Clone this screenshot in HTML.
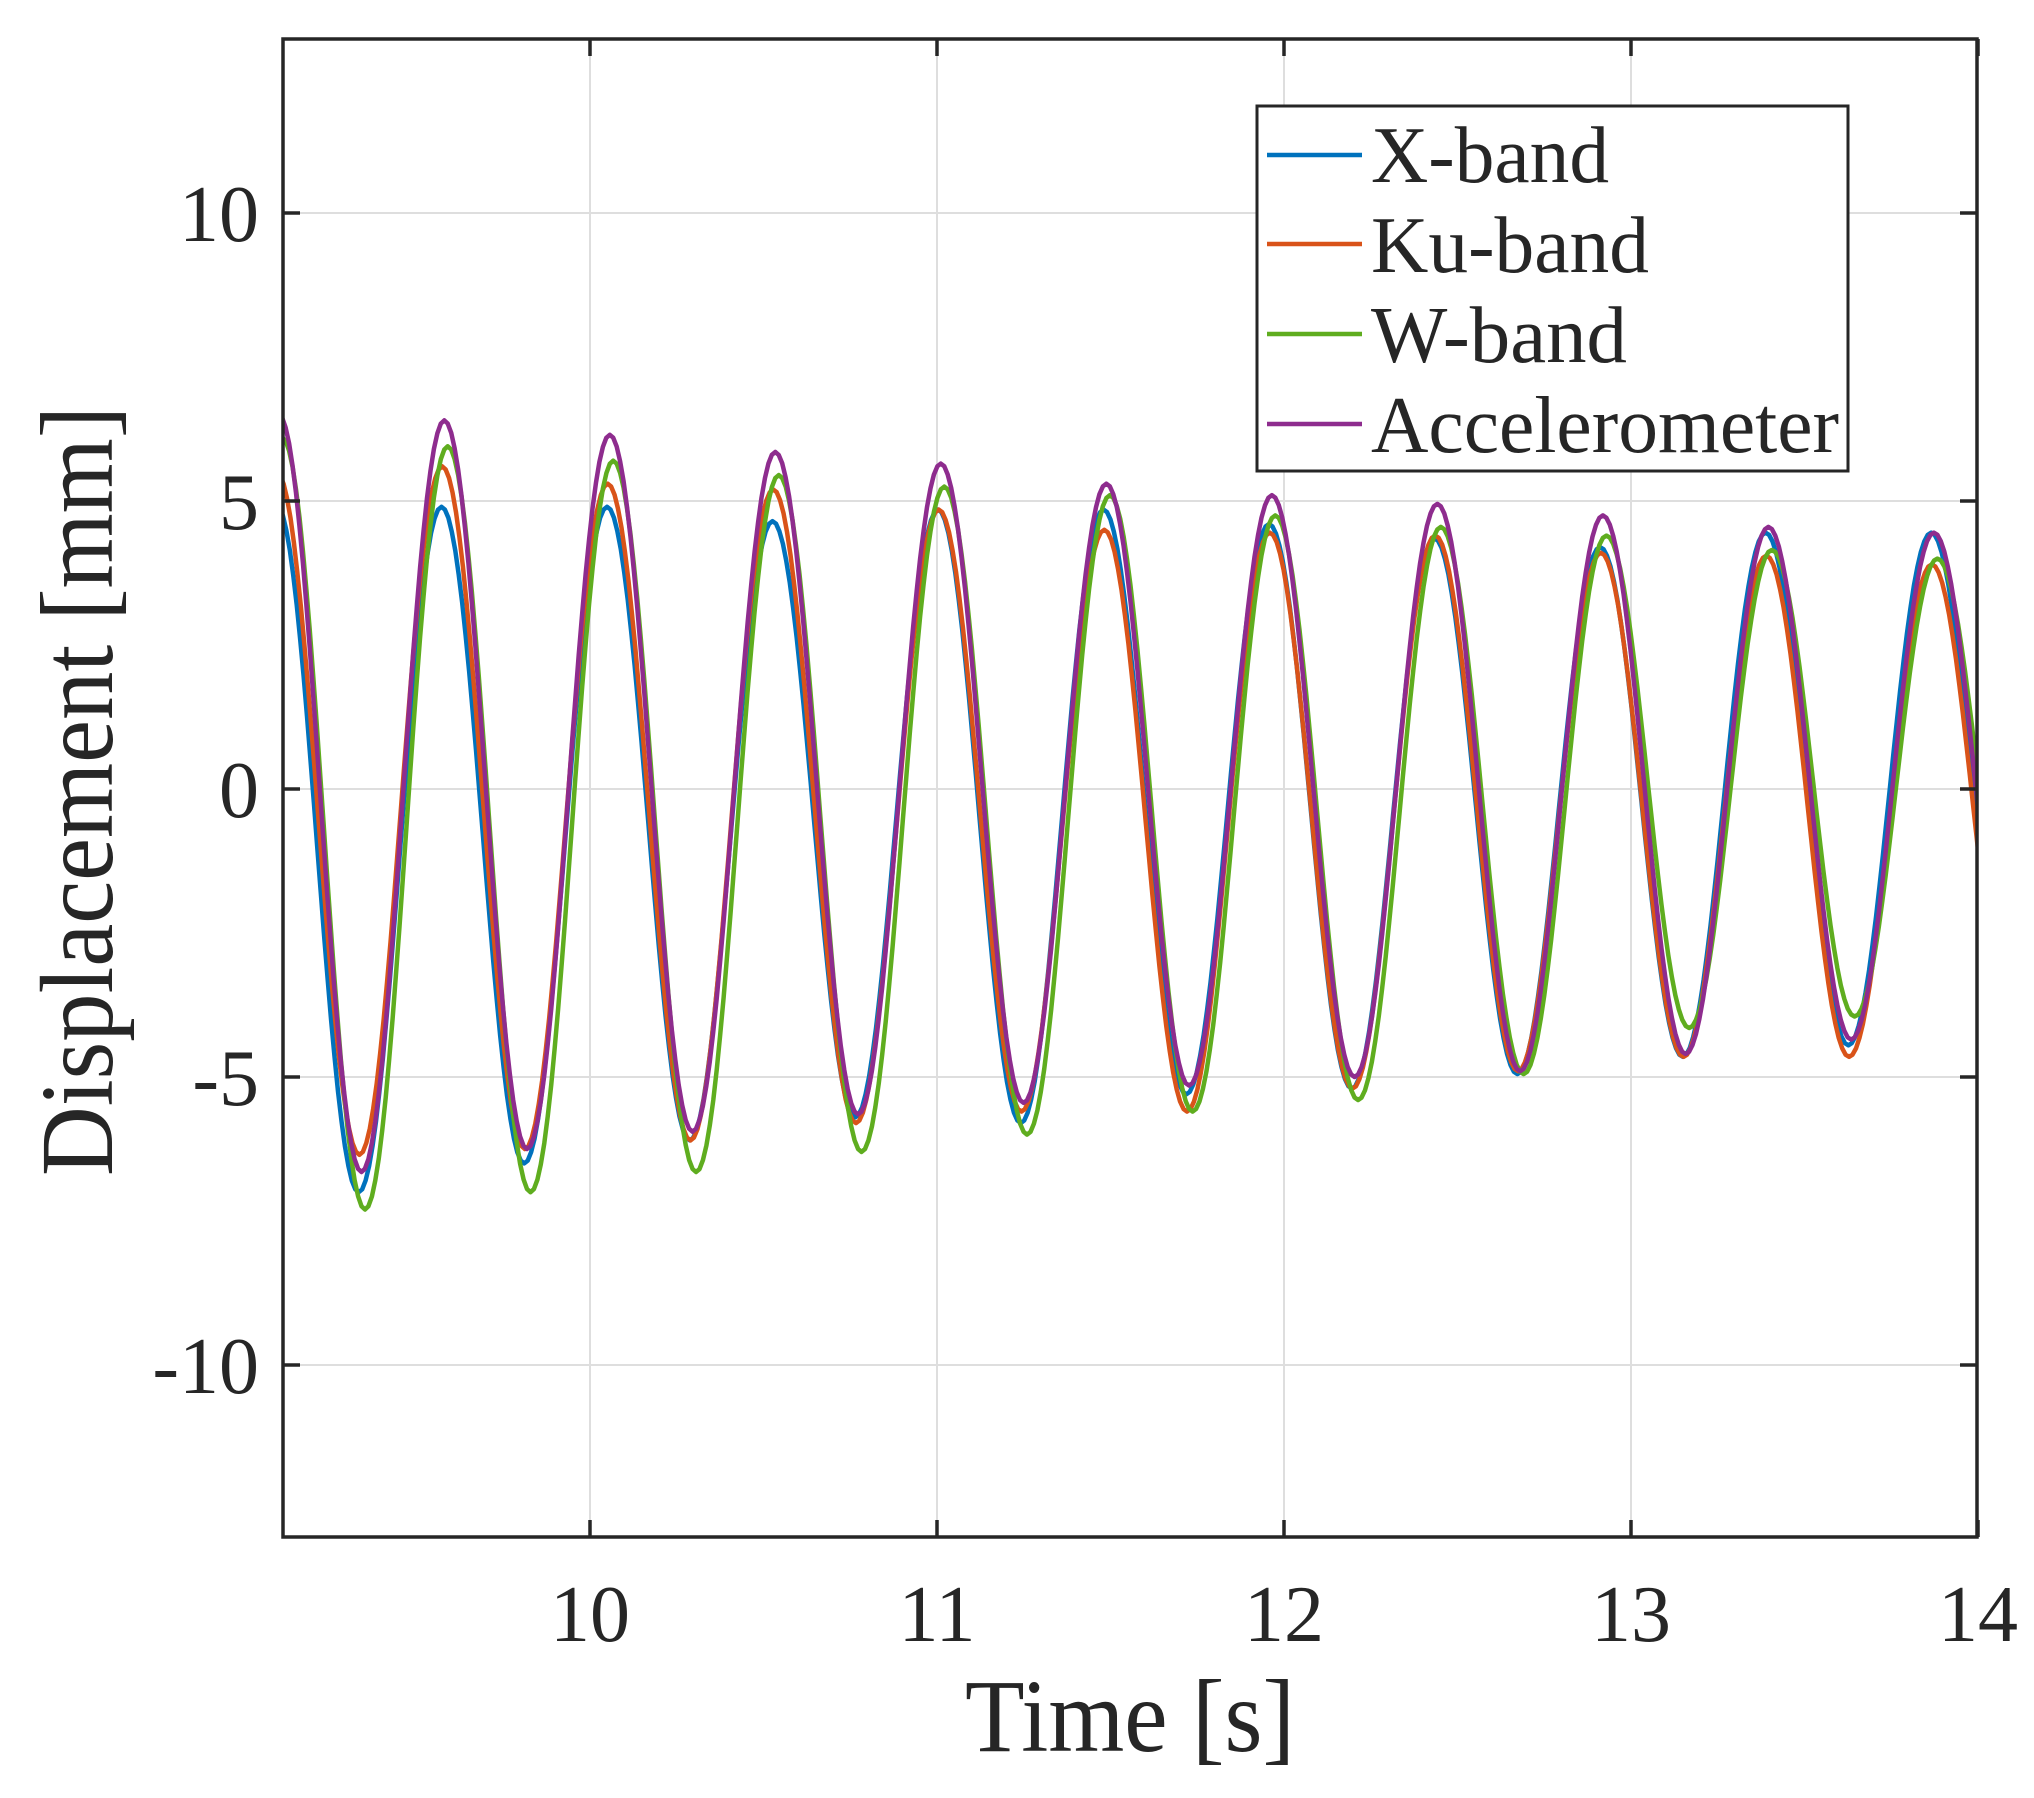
<!DOCTYPE html>
<html><head><meta charset="utf-8"><style>
html,body{margin:0;padding:0;background:#fff;}
svg{display:block;}
text{font-family:"Liberation Serif",serif;fill:#262626;}
</style></head><body>
<svg id="s" width="2034" height="1798" viewBox="0 0 2034 1798" xmlns="http://www.w3.org/2000/svg">
<defs><clipPath id="c"><rect x="283" y="39" width="1694" height="1498"/></clipPath></defs>
<rect width="2034" height="1798" fill="#fff"/>
<g id="grid" stroke="#dedede" stroke-width="2"></g>
<g id="series" clip-path="url(#c)" fill="none" stroke-width="4.5" stroke-linejoin="round"></g>
<g id="axes" stroke="#262626" stroke-width="3.5" fill="none"></g>
<g id="labels" font-size="80"></g>
<text x="1130" y="1751" font-size="104" text-anchor="middle" textLength="330" lengthAdjust="spacingAndGlyphs">Time [s]</text>
<text transform="translate(112,791) rotate(-90)" font-size="104" text-anchor="middle" textLength="770" lengthAdjust="spacingAndGlyphs">Displacement [mm]</text>
<g id="legend">
<rect x="1257" y="106" width="591" height="365" fill="#fff" stroke="#262626" stroke-width="3"/>
<line x1="1267" y1="155" x2="1362" y2="155" stroke="#0072BD" stroke-width="4.5"/>
<line x1="1267" y1="244" x2="1362" y2="244" stroke="#D95319" stroke-width="4.5"/>
<line x1="1267" y1="334" x2="1362" y2="334" stroke="#5FAD1F" stroke-width="4.5"/>
<line x1="1267" y1="424" x2="1362" y2="424" stroke="#8E2C8E" stroke-width="4.5"/>
<text x="1371" y="182" font-size="80" textLength="238" lengthAdjust="spacingAndGlyphs">X-band</text>
<text x="1371" y="272" font-size="80" textLength="278" lengthAdjust="spacingAndGlyphs">Ku-band</text>
<text x="1371" y="362" font-size="80" textLength="256" lengthAdjust="spacingAndGlyphs">W-band</text>
<text x="1371" y="452" font-size="80" textLength="468" lengthAdjust="spacingAndGlyphs">Accelerometer</text>
</g>
</svg>
<script>
var NS="http://www.w3.org/2000/svg";
function X(t){return 590+(t-10)*347;}
function Y(v){return 789-v*57.6;}
function el(p,n,a){var e=document.createElementNS(NS,n);for(var k in a)e.setAttribute(k,a[k]);p.appendChild(e);return e;}
var g=document.getElementById('grid'),ax=document.getElementById('axes'),lb=document.getElementById('labels');
[10,11,12,13].forEach(function(t){el(g,'line',{x1:X(t),y1:39,x2:X(t),y2:1537});});
[-10,-5,0,5,10].forEach(function(v){el(g,'line',{x1:283,y1:Y(v),x2:1977,y2:Y(v)});});
el(ax,'rect',{x:283,y:39,width:1694,height:1498});
[10,11,12,13,14].forEach(function(t){
 el(ax,'line',{x1:X(t),y1:1537,x2:X(t),y2:1520});el(ax,'line',{x1:X(t),y1:39,x2:X(t),y2:56});
 var tx=el(lb,'text',{x:X(t),y:1641,'text-anchor':'middle'});tx.textContent=t;});
[-10,-5,0,5,10].forEach(function(v){
 el(ax,'line',{x1:283,y1:Y(v),x2:300,y2:Y(v)});el(ax,'line',{x1:1977,y1:Y(v),x2:1960,y2:Y(v)});
 var tx=el(lb,'text',{x:259,y:Y(v)+28,'text-anchor':'end'});tx.textContent=v;});
var T0=9.103,P=0.477/2;
var S=[
 {c:"#0072BD",sh:-0.008,v:[4.95,-7.0,4.9,-6.5,4.9,-6.1,4.65,-5.7,4.85,-5.8,4.85,-5.3,4.6,-5.2,4.35,-4.95,4.2,-4.65,4.45,-4.45,4.45,-4.3]},
 {c:"#D95319",sh:-0.006,v:[5.5,-6.35,5.6,-6.25,5.3,-6.1,5.2,-5.8,4.85,-5.6,4.5,-5.6,4.45,-5.2,4.4,-4.9,4.1,-4.65,4.05,-4.65,3.9,-4.5]},
 {c:"#5FAD1F",sh:0.01,v:[6.1,-7.3,5.95,-7.0,5.7,-6.65,5.45,-6.3,5.25,-6.0,5.1,-5.6,4.75,-5.4,4.55,-4.95,4.4,-4.15,4.15,-3.95,4.0,-3.8]},
 {c:"#8E2C8E",sh:0.0,v:[6.5,-6.65,6.4,-6.25,6.15,-5.95,5.85,-5.65,5.65,-5.45,5.3,-5.15,5.1,-5.0,4.95,-4.9,4.75,-4.6,4.55,-4.35,4.45,-4.2]}
];
var sg=document.getElementById('series');
S.forEach(function(s){
 var d="";
 for(var i=0;i<s.v.length-1;i++){
  var ta=T0+i*P+s.sh,a=s.v[i],b=s.v[i+1];
  for(var k=0;k<=24;k++){
   var f=k/24,t=ta+f*P,val=a+(b-a)*(1-Math.cos(Math.PI*f))/2;
   d+=(d?"L":"M")+X(t).toFixed(1)+","+Y(val).toFixed(1);
  }
 }
 el(sg,'path',{d:d,stroke:s.c});
});
</script>
</body></html>
